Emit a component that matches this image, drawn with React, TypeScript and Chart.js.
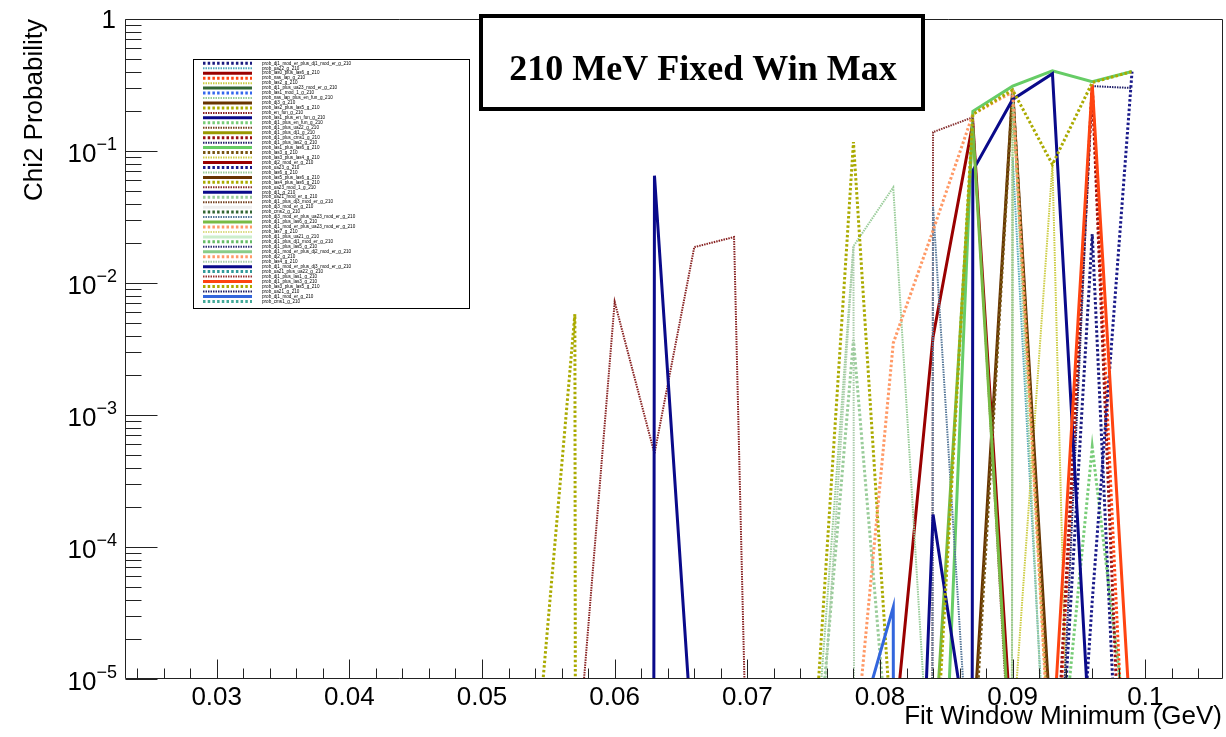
import { useEffect, useRef } from "react";
import { Chart, registerables } from "chart.js";

Chart.register(...registerables);

// Essentially-zero probability (drawn far below the 1e-5 floor)
const Z = 1e-300;

// Fit window minimum values (GeV)
const FIT_MIN = [
  0.030, 0.033, 0.036, 0.039, 0.042, 0.045, 0.048, 0.051,
  0.054, 0.057, 0.060, 0.063, 0.066, 0.069, 0.072, 0.075,
  0.078, 0.081, 0.084, 0.087, 0.090, 0.093, 0.096, 0.099,
];

const NONE = [Z,Z,Z,Z,Z,Z,Z,Z, Z,Z,Z,Z,Z,Z,Z,Z, Z,Z,Z,Z,Z,Z,Z,Z];
const s01 = [Z,Z,Z,Z,Z,Z,Z,Z, Z,Z,Z,Z,Z,Z,Z,Z, Z,Z,Z,Z,Z,1.6e-7,0.0235,6e-9];
const s02 = [Z,Z,Z,Z,Z,Z,Z,Z, Z,Z,Z,Z,Z,Z,Z,Z, Z,Z,Z,Z,0.09,2e-7,Z,Z];
const s03 = [Z,Z,Z,Z,Z,Z,Z,Z, Z,Z,Z,Z,Z,Z,Z,Z, Z,3.1e-6,3.9e-3,0.163,2.7e-6,Z,Z,Z];
const s04 = [Z,Z,Z,Z,Z,Z,Z,Z, Z,Z,Z,Z,Z,Z,Z,Z, Z,Z,Z,Z,Z,4e-7,0.30,1e-7];
const s05 = [Z,Z,Z,Z,Z,Z,Z,Z, Z,Z,Z,Z,Z,Z,Z,Z, Z,Z,Z,Z,3.5e-6,0.079,1e-13,Z];
const s08 = [Z,Z,Z,Z,Z,Z,Z,Z, Z,Z,Z,Z,Z,Z,Z,1.6e-6, 0.019,0.053,6e-7,Z,Z,Z,Z,Z];
const s09 = [Z,Z,Z,Z,Z,Z,Z,Z, Z,Z,Z,Z,Z,Z,Z,Z, Z,Z,Z,3.4e-6,0.29,2.7e-6,Z,Z];
const s10 = [Z,Z,Z,Z,Z,Z,Z,Z, 2e-6,5.8e-3,Z,Z,Z,Z,Z,Z, Z,Z,Z,Z,Z,Z,Z,Z];
const s11 = [Z,Z,Z,Z,Z,Z,Z,Z, Z,1.4e-6,7.2e-3,5.1e-4,0.0187,0.0223,3e-15,Z, Z,Z,Z,Z,Z,Z,Z,Z];
const s12 = [Z,Z,Z,Z,Z,Z,Z,Z, Z,Z,Z,0.065,2e-6,Z,Z,Z, Z,Z,Z,Z,Z,Z,Z,Z];
const s13 = [Z,Z,Z,Z,Z,Z,Z,Z, Z,Z,Z,Z,Z,Z,Z,Z, Z,Z,Z,Z,Z,4.6e-7,5.7e-4,1.7e-6];
const s16 = [Z,Z,Z,Z,Z,Z,Z,Z, Z,Z,Z,Z,Z,Z,Z,Z, Z,Z,Z,Z,Z,6e-7,0.31,1e-8];
const s17 = [Z,Z,Z,Z,Z,Z,Z,Z, Z,Z,Z,Z,Z,Z,Z,Z, Z,Z,Z,Z,Z,1e-7,0.31,0.30];
const s18 = [Z,Z,Z,Z,Z,Z,Z,Z, Z,Z,Z,Z,Z,Z,Z,Z, Z,Z,1e-8,0.20,0.31,0.405,0.335,0.40];
const s19 = [Z,Z,Z,Z,Z,Z,Z,Z, Z,Z,Z,Z,Z,Z,Z,Z, Z,Z,Z,2e-6,0.29,1.7e-6,Z,Z];
const s20 = [Z,Z,Z,Z,Z,Z,Z,Z, Z,Z,Z,Z,Z,Z,Z,Z, Z,Z,Z,Z,0.25,1e-6,Z,Z];
const s22 = [Z,Z,Z,Z,Z,Z,Z,Z, Z,Z,Z,Z,Z,Z,Z,Z, Z,Z,Z,Z,Z,1e-9,3.9e-5,0.40];
const s23 = [Z,Z,Z,Z,Z,Z,Z,Z, Z,Z,Z,Z,Z,Z,Z,Z, Z,Z,Z,Z,0.30,1e-7,Z,Z];
const s25 = [Z,Z,Z,Z,Z,Z,Z,Z, Z,Z,Z,Z,Z,Z,Z,2.6e-6, 0.117,2.4e-6,Z,Z,Z,Z,Z,Z];
const s26 = [Z,Z,Z,Z,Z,Z,Z,Z, Z,Z,Z,Z,Z,Z,Z,Z, Z,Z,0.139,0.18,1e-6,Z,Z,Z];
const s27 = [Z,Z,Z,Z,Z,Z,Z,Z, Z,Z,Z,Z,Z,Z,Z,Z, Z,Z,Z,0.071,0.246,0.385,1.7e-6,Z];
const s28 = [Z,Z,Z,Z,Z,Z,Z,Z, Z,Z,Z,Z,Z,Z,Z,1e-6, 3.7e-3,1e-6,Z,Z,Z,Z,Z,Z];
const s32 = [Z,Z,Z,Z,Z,Z,Z,Z, Z,Z,Z,Z,Z,Z,Z,Z, Z,Z,0.038,6.6e-7,Z,Z,Z,Z];
const s33 = [Z,Z,Z,Z,Z,Z,Z,Z, Z,Z,Z,Z,Z,Z,Z,Z, Z,Z,2e-6,0.15,1.5e-6,Z,Z,Z];
const s34 = [Z,Z,Z,Z,Z,Z,Z,Z, Z,Z,Z,Z,Z,Z,Z,Z, 2.2e-6,3.5e-3,0.025,0.19,0.28,1e-6,Z,Z];
const s41 = [Z,Z,Z,Z,Z,Z,Z,Z, Z,Z,Z,Z,Z,Z,Z,4e-7, 0.019,Z,Z,Z,Z,Z,Z,Z];
const s42 = [Z,Z,Z,Z,Z,Z,Z,Z, Z,Z,Z,Z,Z,Z,Z,Z, Z,5e-12,1.76e-4,1.9e-6,Z,Z,Z,Z];
const s45 = [Z,Z,Z,Z,Z,Z,Z,Z, Z,Z,Z,Z,Z,Z,Z,Z, Z,Z,Z,Z,Z,3.1e-6,0.32,2.95e-6];
const s46 = [Z,Z,Z,Z,Z,Z,Z,Z, Z,Z,Z,Z,Z,Z,Z,Z, Z,Z,1e-6,0.19,0.29,0.079,0.33,0.40];
const s48 = [Z,Z,Z,Z,Z,Z,Z,Z, Z,Z,Z,Z,Z,Z,Z,Z, 3.1e-6,3.5e-5,Z,Z,Z,Z,Z,Z];

const SERIES_NAMES = [
  "prob_dj1_mod_er_plus_dj1_mod_er_g_210", "prob_ua22_g_210", "prob_las0_plus_las6_g_210",
  "prob_nas_lap_g_210", "prob_las2_g_210", "prob_dj1_plus_ua23_mod_er_g_210",
  "prob_las1_mod_1_g_210", "prob_nas_lap_plus_en_fun_g_210", "prob_dj3_g_210",
  "prob_las2_plus_las5_g_210", "prob_en_fun_g_210", "prob_las1_plus_en_fun_g_210",
  "prob_dj1_plus_en_fun_g_210", "prob_dj1_plus_ua22_g_210", "prob_dj1_plus_dj1_g_210",
  "prob_dj1_plus_cms1_g_210", "prob_dj1_plus_las2_g_210", "prob_las1_plus_las6_g_210",
  "prob_las3_g_210", "prob_las3_plus_las4_g_210", "prob_dj2_mod_er_g_210",
  "prob_ua23_g_210", "prob_las6_g_210", "prob_las5_plus_las6_g_210",
  "prob_las4_plus_las6_g_210", "prob_ua23_mod_1_g_210", "prob_dj1_g_210",
  "prob_ua21_mod_er_g_210", "prob_dj1_plus_dj3_mod_er_g_210", "prob_dj3_mod_er_g_210",
  "prob_cms2_g_210", "prob_dj3_mod_er_plus_ua23_mod_er_g_210", "prob_dj1_plus_las6_g_210",
  "prob_dj1_mod_er_plus_ua23_mod_er_g_210", "prob_las7_g_210", "prob_dj1_plus_ua21_g_210",
  "prob_dj1_plus_dj1_mod_er_g_210", "prob_dj1_plus_las5_g_210", "prob_dj1_mod_er_plus_dj2_mod_er_g_210",
  "prob_dj2_g_210", "prob_las4_g_210", "prob_dj1_mod_er_plus_dj3_mod_er_g_210",
  "prob_ua21_plus_ua22_g_210", "prob_dj1_plus_las1_g_210", "prob_dj1_plus_las3_g_210",
  "prob_las3_plus_las5_g_210", "prob_ua21_g_210", "prob_dj1_mod_er_g_210",
  "prob_cms1_g_210",
];

const SERIES_VALUES = [
  s01, s02, s03, s04, s05, NONE, NONE, s08, s09, s10,
  s11, s12, s13, NONE, NONE, s16, s17, s18, s19, s20,
  NONE, s22, s23, NONE, s25, s26, s27, s28, NONE, NONE,
  NONE, s32, s33, s34, NONE, NONE, NONE, NONE, NONE, NONE,
  s41, s42, NONE, NONE, s45, s46, NONE, s48, NONE,
];

const SERIES_COLORS = [
  "#1a1a80", "#55aabb", "#990000", "#ff4411", "#cccc44", "#336633", "#3366ee", "#99cc99", "#663300", "#aaaa00",
  "#882222", "#0a0a8a", "#77cc77", "#774422", "#999900", "#991111", "#22226a", "#66cc66", "#775511", "#cccc44",
  "#990000", "#1a1a8a", "#99cc99", "#663300", "#aaaa00", "#883333", "#0a0a8a", "#99cc99", "#774422", "#eeeeee",
  "#336633", "#557799", "#77bb44", "#ff9966", "#dddd88", "#cceecc", "#66bb66", "#333377", "#88cc88", "#ff9966",
  "#aaccaa", "#0a0a8a", "#339999", "#993333", "#ff4411", "#aaaa00", "#222266", "#3366dd", "#44aa99",
];

const X_MAJOR = [0.03, 0.04, 0.05, 0.06, 0.07, 0.08, 0.09, 0.1];
const X_LABELS = ["0.03", "0.04", "0.05", "0.06", "0.07", "0.08", "0.09", "0.1"];
const Y_DECADES = [1, 0.1, 0.01, 0.001, 0.0001, 0.00001];
const Y_EXPONENTS = ["", "\u22121", "\u22122", "\u22123", "\u22124", "\u22125"];

const TITLE = "210 MeV Fixed Win Max";
const X_TITLE = "Fit Window Minimum (GeV)";
const Y_TITLE = "Chi2 Probability";

const STYLE_KINDS = ["dots", "fine", "solid"];
function styleFor(i: number) {
  const kind = STYLE_KINDS[i % 3];
  if (kind === "solid") return { borderWidth: 3, borderDash: [] as number[] };
  if (kind === "dots") return { borderWidth: 3, borderDash: [2.5, 2.2] };
  return { borderWidth: 2, borderDash: [1.5, 1] };
}

const FONT = '"Liberation Sans", Arial, Helvetica, sans-serif';

const rootDecor = {
  id: "rootDecor",
  afterDraw(chart: any) {
    const { ctx, chartArea, scales } = chart;
    const { left, right, top, bottom } = chartArea;
    const xs = scales.x;
    const ys = scales.y;
    ctx.save();

    // frame
    ctx.strokeStyle = "#222";
    ctx.lineWidth = 1;
    ctx.setLineDash([]);
    ctx.beginPath();
    ctx.moveTo(left + 0.5, top + 0.5);
    ctx.lineTo(right - 0.5, top + 0.5);
    ctx.lineTo(right - 0.5, bottom - 0.5);
    ctx.lineTo(left + 0.5, bottom - 0.5);
    ctx.closePath();
    ctx.stroke();

    // x ticks
    ctx.beginPath();
    for (let k = 12; k <= 52; k++) {
      const v = k * 0.002;
      const px = Math.round(xs.getPixelForValue(v)) + 0.5;
      if (px < left || px > right) continue;
      const len = k % 5 === 0 ? 19 : 10;
      ctx.moveTo(px, bottom - 0.5);
      ctx.lineTo(px, bottom - 0.5 - len);
    }
    // y ticks
    for (let d = -5; d <= -1; d++) {
      for (let m = 1; m <= 9; m++) {
        const v = m * Math.pow(10, d);
        const py = Math.round(ys.getPixelForValue(v)) + 0.5;
        const len = m === 1 ? 32 : 16;
        ctx.moveTo(left + 0.5, py);
        ctx.lineTo(left + 0.5 + len, py);
      }
    }
    const pTop = Math.round(ys.getPixelForValue(1)) + 0.5;
    ctx.moveTo(left + 0.5, pTop);
    ctx.lineTo(left + 32.5, pTop);
    ctx.stroke();

    // x tick labels
    ctx.fillStyle = "#000";
    ctx.font = `26px ${FONT}`;
    ctx.textAlign = "center";
    ctx.textBaseline = "alphabetic";
    X_MAJOR.forEach((v, i) => {
      ctx.fillText(X_LABELS[i], xs.getPixelForValue(v), 705);
    });

    // y tick labels
    Y_DECADES.forEach((v, i) => {
      const py = ys.getPixelForValue(v);
      const exp = Y_EXPONENTS[i];
      ctx.textAlign = "right";
      if (!exp) {
        ctx.font = `26px ${FONT}`;
        ctx.fillText("1", 116, py + 9);
      } else {
        ctx.font = `18px ${FONT}`;
        const w = ctx.measureText(exp).width;
        ctx.fillText(exp, 117, py - 1);
        ctx.font = `26px ${FONT}`;
        ctx.fillText("10", 117 - w, py + 11);
      }
    });

    // axis titles
    ctx.font = `26px ${FONT}`;
    ctx.textAlign = "right";
    ctx.fillText(X_TITLE, 1222, 724);
    ctx.save();
    ctx.translate(42, top);
    ctx.rotate(-Math.PI / 2);
    ctx.textAlign = "right";
    ctx.fillText(Y_TITLE, 0, 0);
    ctx.restore();

    // legend
    const lx = 193.5, ly = 59.5, lw = 276, lh = 249;
    ctx.fillStyle = "#fff";
    ctx.fillRect(lx, ly, lw, lh);
    ctx.strokeStyle = "#000";
    ctx.lineWidth = 1;
    ctx.setLineDash([]);
    ctx.strokeRect(lx, ly, lw, lh);
    chart.data.datasets.forEach((ds: any, i: number) => {
      const ry = 63.3 + i * 4.96;
      ctx.save();
      ctx.strokeStyle = ds.borderColor;
      ctx.lineWidth = ds.borderWidth;
      ctx.setLineDash(ds.borderDash || []);
      ctx.beginPath();
      ctx.moveTo(203, ry);
      ctx.lineTo(252, ry);
      ctx.stroke();
      ctx.restore();
      ctx.fillStyle = "#000";
      ctx.font = `4.6px ${FONT}`;
      ctx.textAlign = "left";
      ctx.textBaseline = "middle";
      ctx.fillText(ds.label, 262, ry);
    });

    // title box
    ctx.textBaseline = "alphabetic";
    ctx.fillStyle = "#fff";
    ctx.fillRect(481, 16, 442, 93);
    ctx.strokeStyle = "#000";
    ctx.lineWidth = 4;
    ctx.strokeRect(481, 16, 442, 93);
    ctx.fillStyle = "#000";
    ctx.font = `bold 36px "Liberation Serif", "Times New Roman", serif`;
    ctx.textAlign = "center";
    ctx.fillText(TITLE, 703, 80);

    ctx.restore();
  },
};

export default function App() {
  const ref = useRef<HTMLCanvasElement>(null);
  useEffect(() => {
    document.body.style.margin = "0";
    const canvas = ref.current!;
    const n = SERIES_VALUES.length;
    const datasets = SERIES_VALUES.map((vals, i) => ({
      label: SERIES_NAMES[i],
      data: vals.map((y, j) => ({ x: FIT_MIN[j], y })),
      borderColor: SERIES_COLORS[i],
      backgroundColor: SERIES_COLORS[i],
      ...styleFor(i),
      pointRadius: 0,
      pointHoverRadius: 0,
      fill: false,
      tension: 0,
      clip: 0,
      order: n - i,
    }));
    const chart = new Chart(canvas, {
      type: "line",
      data: { datasets },
      options: {
        animation: false,
        responsive: false,
        events: [],
        parsing: false as any,
        normalized: true,
        layout: { padding: { left: 125, top: 19, right: 3, bottom: 58 } },
        plugins: {
          legend: { display: false },
          tooltip: { enabled: false },
          title: { display: false },
        },
        scales: {
          x: { type: "linear", min: 0.023088, max: 0.105857, display: false },
          y: { type: "logarithmic", min: 1e-5, max: 1, display: false },
        },
      },
      plugins: [rootDecor],
    });
    return () => chart.destroy();
  }, []);
  return (
    <div style={{ width: 1226, height: 737, background: "#fff" }}>
      <canvas ref={ref} width={1226} height={737} style={{ display: "block" }} />
    </div>
  );
}
